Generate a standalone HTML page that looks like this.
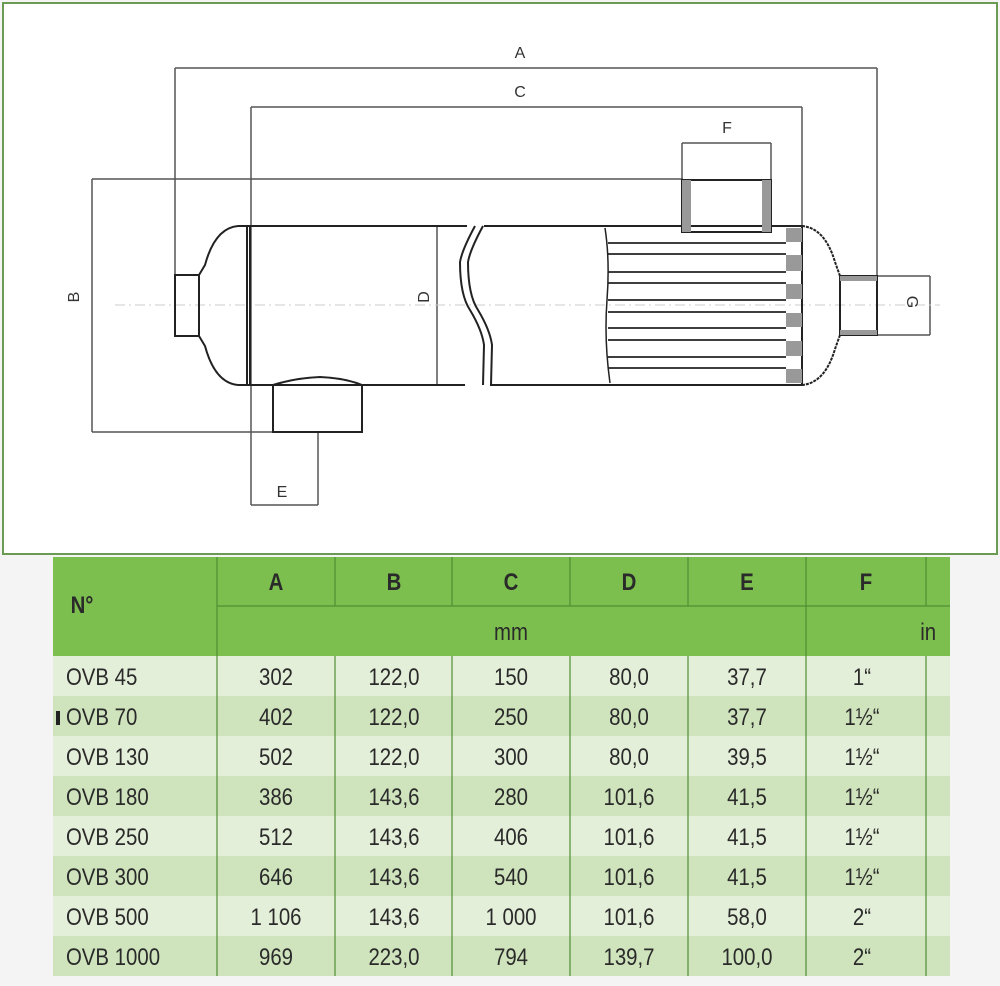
<!DOCTYPE html>
<html><head><meta charset="utf-8"><style>
html,body{margin:0;padding:0;background:#fff;}
svg{display:block}
text{font-family:"Liberation Sans",sans-serif;}
</style></head><body>
<svg width="1000" height="986" viewBox="0 0 1000 986" xmlns="http://www.w3.org/2000/svg">
<rect x="0" y="0" width="1000" height="986" fill="#f4f4f4"/>
<rect x="3" y="3" width="994" height="551" fill="#fff" stroke="#6b9a55" stroke-width="2"/>
<g stroke="#555" stroke-width="1.5" fill="none">
 <line x1="175" y1="68" x2="877" y2="68"/>
 <line x1="175" y1="68" x2="175" y2="275"/>
 <line x1="877" y1="68" x2="877" y2="276"/>
 <line x1="251" y1="107" x2="802" y2="107"/>
 <line x1="251" y1="107" x2="251" y2="505"/>
 <line x1="802" y1="107" x2="802" y2="227"/>
 <line x1="682" y1="143" x2="771" y2="143"/>
 <line x1="682" y1="143" x2="682" y2="180"/>
 <line x1="771" y1="143" x2="771" y2="180"/>
 <line x1="92" y1="179" x2="683" y2="179"/>
 <line x1="92" y1="179" x2="92" y2="432"/>
 <line x1="92" y1="432" x2="273" y2="432"/>
 <line x1="318" y1="432" x2="318" y2="505"/>
 <line x1="251" y1="505" x2="318" y2="505"/>
 <line x1="877" y1="276" x2="930" y2="276"/>
 <line x1="877" y1="335" x2="930" y2="335"/>
 <line x1="930" y1="276" x2="930" y2="335"/>
 <line x1="437" y1="226" x2="437" y2="385"/>
</g>
<line x1="115" y1="305" x2="940" y2="305" stroke="#ccc" stroke-width="1" stroke-dasharray="10,4,2,4"/>
<g stroke="#222" stroke-width="2" fill="none">
 <line x1="238" y1="226" x2="467" y2="226"/>
 <line x1="484" y1="226" x2="802" y2="226"/>
 <line x1="238" y1="385" x2="465" y2="385"/>
 <line x1="490" y1="385" x2="802" y2="385"/>
 <path d="M238 226 Q215 228 205 265 L199 275 M199 336 L205 346 Q215 383 238 385"/>
 <rect x="175" y="275" width="24" height="61"/>
 <line x1="247" y1="226" x2="247" y2="385"/>
 <line x1="250" y1="226" x2="250" y2="385"/>
 <path d="M273 385 L273 432 L362 432 L362 385 Q345 378 320 377 Q295 378 273 385"/>
 <path d="M475 226 Q462 250 460 262 Q460 295 470 310 Q482 330 484 345 L483 385"/>
 <path d="M483 226 Q470 250 468 262 Q468 295 478 310 Q490 330 492 345 L491 385"/>
 <rect x="682" y="180" width="89" height="52"/>
 <path d="M802 226 Q825 228 835 262 L840 276 M840 335 L835 349 Q825 383 802 385" stroke-dasharray="3,1"/>
 <rect x="840" y="276" width="37" height="59"/>
 <line x1="802" y1="226" x2="802" y2="385"/>
 <path d="M605 228 Q610 260 607 300 Q604 340 610 383" stroke-width="1.5"/>
</g>
<g fill="#999">
 <rect x="682" y="180" width="9" height="52"/><rect x="762" y="180" width="9" height="52"/>
 <rect x="840" y="276" width="37" height="5"/><rect x="840" y="330" width="37" height="5"/>
 <rect x="786" y="228" width="16" height="14"/><rect x="786" y="255" width="16" height="16"/>
 <rect x="786" y="284" width="16" height="15"/><rect x="786" y="313" width="16" height="14"/>
 <rect x="786" y="341" width="16" height="15"/><rect x="786" y="369" width="16" height="14"/>
</g>
<g stroke="#222" stroke-width="1.8">
 <line x1="608" y1="243" x2="786" y2="243"/><line x1="608" y1="254" x2="786" y2="254"/>
 <line x1="608" y1="272" x2="786" y2="272"/><line x1="608" y1="283" x2="786" y2="283"/>
 <line x1="608" y1="300" x2="786" y2="300"/><line x1="608" y1="312" x2="786" y2="312"/>
 <line x1="608" y1="328" x2="786" y2="328"/><line x1="608" y1="340" x2="786" y2="340"/>
 <line x1="608" y1="357" x2="786" y2="357"/><line x1="608" y1="368" x2="786" y2="368"/>
</g>
<g fill="#333" font-size="16">
 <text x="520" y="58" text-anchor="middle">A</text>
 <text x="520" y="97" text-anchor="middle">C</text>
 <text x="727" y="133" text-anchor="middle">F</text>
 <text x="282" y="497" text-anchor="middle">E</text>
 <text transform="translate(79,297) rotate(-90)" text-anchor="middle">B</text>
 <text transform="translate(429,297) rotate(-90)" text-anchor="middle">D</text>
 <text transform="translate(907,302) rotate(90)" text-anchor="middle">G</text>
</g>
<rect x="53" y="557" width="897" height="99" fill="#7cbf4e"/>
<g fill="#cfe4bd">
 <rect x="53" y="656" width="897" height="40" fill="#e4efd9"/>
 <rect x="53" y="696" width="897" height="40"/>
 <rect x="53" y="736" width="897" height="40" fill="#e4efd9"/>
 <rect x="53" y="776" width="897" height="40"/>
 <rect x="53" y="816" width="897" height="40" fill="#e4efd9"/>
 <rect x="53" y="856" width="897" height="40"/>
 <rect x="53" y="896" width="897" height="40" fill="#e4efd9"/>
 <rect x="53" y="936" width="897" height="40"/>
</g>
<g stroke="#4f8f35" stroke-width="1.2">
 <line x1="217" y1="557" x2="217" y2="976"/><line x1="335" y1="557" x2="335" y2="606"/>
 <line x1="452" y1="557" x2="452" y2="606"/><line x1="570" y1="557" x2="570" y2="606"/>
 <line x1="688" y1="557" x2="688" y2="606"/><line x1="806" y1="557" x2="806" y2="976"/>
 <line x1="926" y1="557" x2="926" y2="606"/><line x1="926" y1="656" x2="926" y2="976"/>
 <line x1="217" y1="606" x2="950" y2="606"/>
 <line x1="335" y1="656" x2="335" y2="976"/><line x1="452" y1="656" x2="452" y2="976"/>
 <line x1="570" y1="656" x2="570" y2="976"/><line x1="688" y1="656" x2="688" y2="976"/>
</g>
<g transform="scale(0.85 1)">
<g fill="#2a2a2a" font-size="24" text-anchor="middle">
 <text x="324.7" y="590" font-weight="bold">A</text><text x="463.5" y="590" font-weight="bold">B</text>
 <text x="601.2" y="590" font-weight="bold">C</text><text x="740" y="590" font-weight="bold">D</text>
 <text x="878.8" y="590" font-weight="bold">E</text><text x="1018.8" y="590" font-weight="bold">F</text>
 <text x="96.5" y="613" font-weight="bold">N°</text>
 <text x="601.2" y="640">mm</text><text x="1092" y="640">in</text>
</g>
<g fill="#2a2a2a" font-size="24">
 <g text-anchor="start">
  <text x="77.6" y="685">OVB 45</text><text x="77.6" y="725">OVB 70</text><text x="77.6" y="765">OVB 130</text>
  <text x="77.6" y="805">OVB 180</text><text x="77.6" y="845">OVB 250</text><text x="77.6" y="885">OVB 300</text>
  <text x="77.6" y="925">OVB 500</text><text x="77.6" y="965">OVB 1000</text>
 </g>
 <g text-anchor="middle">
  <text x="324.7" y="685">302</text><text x="463.5" y="685">122,0</text><text x="601.2" y="685">150</text><text x="740" y="685">80,0</text><text x="878.8" y="685">37,7</text><text x="1014.1" y="685">1“</text>
  <text x="324.7" y="725">402</text><text x="463.5" y="725">122,0</text><text x="601.2" y="725">250</text><text x="740" y="725">80,0</text><text x="878.8" y="725">37,7</text><text x="1014.1" y="725">1½“</text>
  <text x="324.7" y="765">502</text><text x="463.5" y="765">122,0</text><text x="601.2" y="765">300</text><text x="740" y="765">80,0</text><text x="878.8" y="765">39,5</text><text x="1014.1" y="765">1½“</text>
  <text x="324.7" y="805">386</text><text x="463.5" y="805">143,6</text><text x="601.2" y="805">280</text><text x="740" y="805">101,6</text><text x="878.8" y="805">41,5</text><text x="1014.1" y="805">1½“</text>
  <text x="324.7" y="845">512</text><text x="463.5" y="845">143,6</text><text x="601.2" y="845">406</text><text x="740" y="845">101,6</text><text x="878.8" y="845">41,5</text><text x="1014.1" y="845">1½“</text>
  <text x="324.7" y="885">646</text><text x="463.5" y="885">143,6</text><text x="601.2" y="885">540</text><text x="740" y="885">101,6</text><text x="878.8" y="885">41,5</text><text x="1014.1" y="885">1½“</text>
  <text x="324.7" y="925">1 106</text><text x="463.5" y="925">143,6</text><text x="601.2" y="925">1 000</text><text x="740" y="925">101,6</text><text x="878.8" y="925">58,0</text><text x="1014.1" y="925">2“</text>
  <text x="324.7" y="965">969</text><text x="463.5" y="965">223,0</text><text x="601.2" y="965">794</text><text x="740" y="965">139,7</text><text x="878.8" y="965">100,0</text><text x="1014.1" y="965">2“</text>
 </g>
</g>
</g>
<rect x="56" y="711" width="4" height="14" fill="#222"/>
</svg>
</body></html>
